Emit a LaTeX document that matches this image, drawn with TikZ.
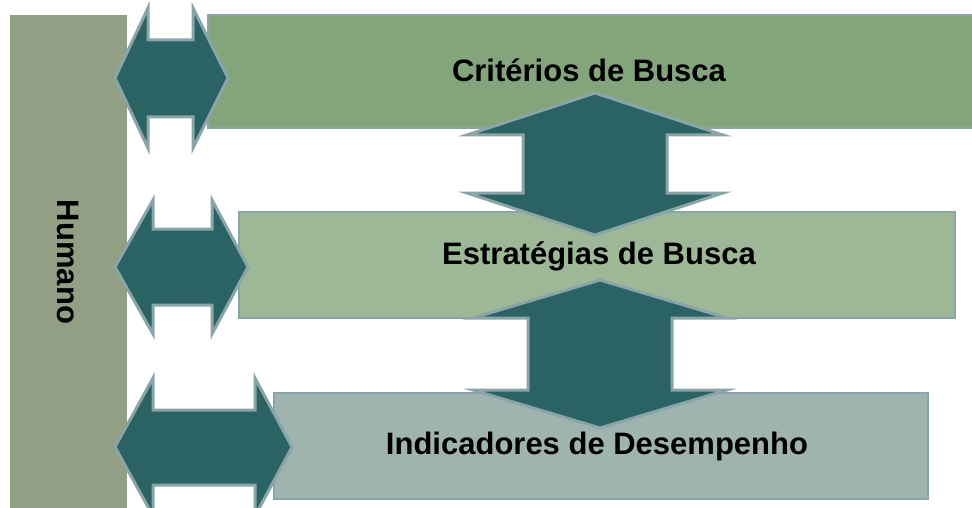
\documentclass[tikz,border=0pt]{standalone}
\usepackage{fontspec}
\setmainfont{Liberation Sans}

\definecolor{humanogruen}{HTML}{939F85}
\definecolor{criteriosgruen}{HTML}{84A47C}
\definecolor{estrategiasgruen}{HTML}{9DB897}
\definecolor{indicadoresgrau}{HTML}{A0B4AF}
\definecolor{pfeilfarbe}{HTML}{2B6264}
\definecolor{randfarbe}{HTML}{8AA5A8}

\tikzset{
	kasten/.style={draw=randfarbe,line width=2.5pt},
	pfeil/.style={fill=pfeilfarbe,draw=randfarbe,line width=3pt,line join=miter},
	beschriftung/.style={font=\bfseries\fontsize{31}{37}\selectfont,inner sep=0pt}
}

\begin{document}
\begin{tikzpicture}[x=1pt,y=-1pt]
	\clip (0,0) rectangle (972,508);
	\fill[white] (0,0) rectangle (972,508);
	% Humano
	\fill[humanogruen] (10,15) rectangle (127,510);
	% Kaesten
	\draw[kasten,fill=criteriosgruen] (208,15) rectangle (980,128);
	\draw[kasten,fill=estrategiasgruen] (239,212) rectangle (955,318);
	\draw[kasten,fill=indicadoresgrau] (274,393) rectangle (928,499);
	% senkrechte Pfeile
	\draw[pfeil] (595,93) to ++(128,42) to ++(-56,0) to ++(0,58) to ++(56,0)%
		to ++(-128,42) to ++(-128,-42) to ++(56,0) to ++(0,-58) to ++(-56,0) to cycle;
	\draw[pfeil] (600,280) to ++(127,38) to ++(-55,0) to ++(0,72) to ++(55,0)%
		to ++(-127,38) to ++(-127,-38) to ++(55,0) to ++(0,-72) to ++(-55,0) to cycle;
	% linke Pfeile
	\draw[pfeil] (115,78) to ++(33,-70) to ++(0,32) to ++(45,0) to ++(0,-32)%
		to ++(35,70) to ++(-35,70) to ++(0,-31) to ++(-45,0) to ++(0,31) to cycle;
	\draw[pfeil] (115,267) to ++(38,-67) to ++(0,29) to ++(59,0) to ++(0,-29)%
		to ++(36,67) to ++(-36,67) to ++(0,-29) to ++(-59,0) to ++(0,29) to cycle;
	\draw[pfeil] (115,447) to ++(38,-69) to ++(0,32) to ++(102,0) to ++(0,-32)%
		to ++(37,69) to ++(-37,69) to ++(0,-31) to ++(-102,0) to ++(0,31) to cycle;
	% Texte
	\node[beschriftung] (criterios) at (589,70) {Critérios de Busca};
	\node[beschriftung] (estrategias) at (599,256) {Estratégias de Busca};
	\node[beschriftung] (indicadores) at (597,446) {Indicadores de Desempenho};
	\node[beschriftung,rotate=-90] (humano) at (68,262) {Humano};
\end{tikzpicture}
\end{document}
